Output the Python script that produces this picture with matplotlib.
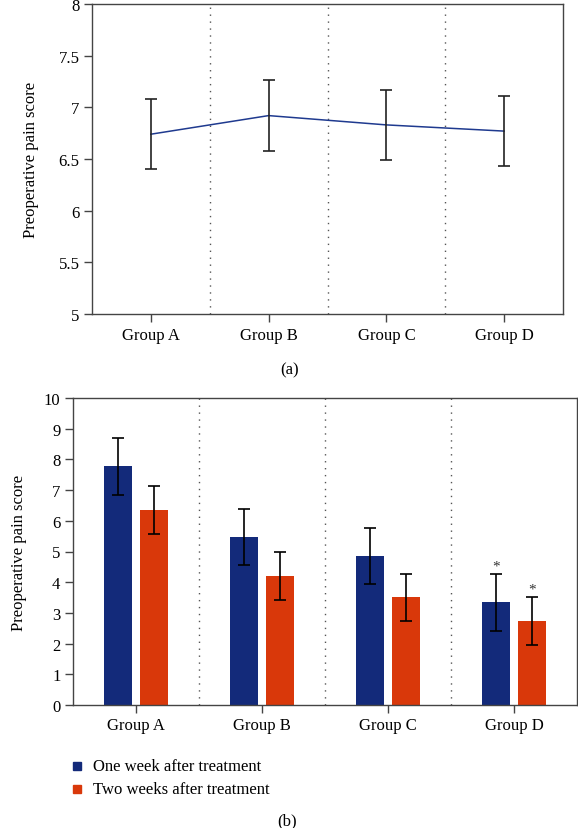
#!/usr/bin/env python3
# -*- coding: utf-8 -*-
"""
Preoperative pain score - line chart (a) and grouped bars (b)
"""

import numpy as np
import matplotlib
matplotlib.use('Agg')
import matplotlib.pyplot as plt
from matplotlib.patches import Rectangle

plt.rcParams['font.family'] = ['Liberation Serif', 'DejaVu Serif']

groups = ['Group A', 'Group B', 'Group C', 'Group D']

# (a) preoperative scores
pre_mean = [6.74, 6.92, 6.83, 6.77]
pre_err = [0.34, 0.345, 0.34, 0.34]

# (b) scores after treatment
week1_mean = [7.77, 5.48, 4.85, 3.34]
week1_err = [0.92, 0.92, 0.92, 0.92]
week2_mean = [6.35, 4.20, 3.51, 2.75]
week2_err = [0.77, 0.78, 0.77, 0.78]
series_names = ['One week after treatment', 'Two weeks after treatment']
starred = [False, False, False, True]

BLUE = '#132a7a'
ORANGE = '#d9380a'
LINE = '#1f3a8f'
SPINE = '#444444'
FS = 12


def style_axes(ax):
    for s in ax.spines.values():
        s.set_color(SPINE)
        s.set_linewidth(1.0)
    ax.tick_params(direction='out', length=6, width=1, color=SPINE,
                   labelsize=FS, pad=3)
    ax.set_xlim(-0.5, 3.5)
    ax.set_xticks(np.arange(len(groups)))
    ax.set_xticklabels(groups)
    for xv in [0.5, 1.5, 2.5]:
        ax.axvline(xv, color='#555555', lw=1, ls=(0, (1, 4)), zorder=0)


def main():
    fig = plt.figure(figsize=(5.78, 8.29), dpi=100)
    W, H = 578, 829

    # ---- (a)
    ax1 = fig.add_axes([92 / W, 1 - 315 / H, (563 - 92) / W, (315 - 5) / H])
    x = np.arange(len(groups))
    ax1.plot(x, pre_mean, color=LINE, lw=1.1, zorder=3)
    ax1.errorbar(x, pre_mean, yerr=pre_err, fmt='none', ecolor='#222222',
                 elinewidth=1.2, capsize=4, capthick=1.2, zorder=4)
    ax1.set_ylim(5, 8)
    ax1.set_yticks([5, 5.5, 6, 6.5, 7, 7.5, 8])
    ax1.set_yticklabels(['5', '5.5', '6', '6.5', '7', '7.5', '8'])
    style_axes(ax1)
    ax1.set_ylabel('Preoperative pain score', fontsize=FS, labelpad=14)
    fig.text(290 / W, 1 - 370 / H, '(a)', ha='center', va='center', fontsize=FS)

    # ---- (b)
    ax2 = fig.add_axes([73 / W, 1 - 706 / H, (577 - 73) / W, (706 - 399) / H])
    bw = 0.22
    off = 0.143
    ax2.bar(x - off, week1_mean, bw, color=BLUE, zorder=2)
    ax2.bar(x + off, week2_mean, bw, color=ORANGE, zorder=2)
    ax2.errorbar(x - off, week1_mean, yerr=week1_err, fmt='none', ecolor='black',
                 elinewidth=1.2, capsize=4, capthick=1.2, zorder=4)
    ax2.errorbar(x + off, week2_mean, yerr=week2_err, fmt='none', ecolor='black',
                 elinewidth=1.2, capsize=4, capthick=1.2, zorder=4)
    for i, st in enumerate(starred):
        if st:
            ax2.text(x[i] - off, week1_mean[i] + week1_err[i] + 0.05, '*',
                     ha='center', va='bottom', fontsize=11, color='#333333')
            ax2.text(x[i] + off, week2_mean[i] + week2_err[i] + 0.05, '*',
                     ha='center', va='bottom', fontsize=11, color='#333333')
    ax2.set_ylim(0, 10)
    ax2.set_yticks(range(0, 11))
    style_axes(ax2)
    ax2.set_ylabel('Preoperative pain score', fontsize=FS, labelpad=12)

    # legend
    for j, (name, col) in enumerate(zip(series_names, [BLUE, ORANGE])):
        yc = 767 + j * 23
        fig.patches.append(Rectangle((73 / W, 1 - (yc + 4) / H), 8 / W, 8 / H,
                                     transform=fig.transFigure, color=col))
        fig.text(93 / W, 1 - yc / H, name, ha='left', va='center', fontsize=FS)

    fig.text(287 / W, 1 - 821 / H, '(b)', ha='center', va='center', fontsize=FS)

    fig.savefig('out.png', dpi=100)
    plt.close(fig)


if __name__ == "__main__":
    main()
